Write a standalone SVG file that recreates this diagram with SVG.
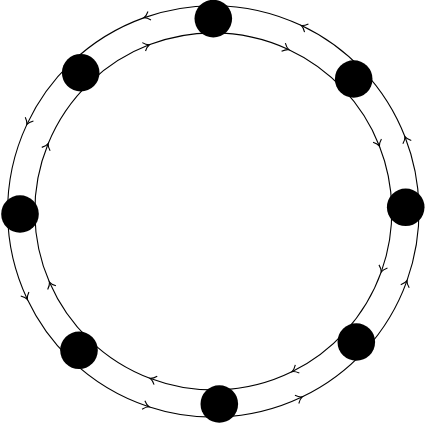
<svg xmlns="http://www.w3.org/2000/svg" width="427" height="425" viewBox="0 0 427 425">
<style>
.edge{fill:none;stroke:#000;stroke-width:1.1;marker-mid:url(#tip)}
.node{fill:#000}
</style>
<defs>
<marker id="tip" markerUnits="userSpaceOnUse" markerWidth="14" markerHeight="14" viewBox="-7 -7 14 14" refX="0" refY="0" orient="auto" overflow="visible">
<path d="M -5.5,-4.5 C -3,-1.5 -1,-0.4 0.4,0 C -1,0.4 -3,1.5 -5.5,4.5" fill="none" stroke="#000" stroke-width="1.1"/>
</marker>
</defs>
<rect width="427" height="425" fill="#fff"/>
<g id="connectors">
<path class="edge" d="M 213.3,5.7 A 205.7 205.7 0 0 0 144.31,17.61 A 205.7 205.7 0 0 0 71.18,62.70"/>
<path class="edge" d="M 363.0,70.33 A 205.7 205.7 0 0 0 301.52,25.59 A 205.7 205.7 0 0 0 213.3,5.7"/>
<path class="edge" d="M 418.95,207.09 A 205.7 205.7 0 0 0 405.07,137.02 A 205.7 205.7 0 0 0 363.0,70.33"/>
<path class="edge" d="M 365.19,350.10 A 205.7 205.7 0 0 0 406.84,281.07 A 205.7 205.7 0 0 0 418.95,207.09"/>
<path class="edge" d="M 219.76,417.0 A 205.7 205.7 0 0 0 301.85,397.06 A 205.7 205.7 0 0 0 365.19,350.10"/>
<path class="edge" d="M 70.40,359.36 A 205.7 205.7 0 0 0 148.71,406.69 A 205.7 205.7 0 0 0 219.76,417.0"/>
<path class="edge" d="M 7.62,214.27 A 205.7 205.7 0 0 0 27.18,298.99 A 205.7 205.7 0 0 0 70.40,359.36"/>
<path class="edge" d="M 71.18,62.70 A 205.7 205.7 0 0 0 27.02,124.14 A 205.7 205.7 0 0 0 7.62,214.27"/>
<path class="edge" d="M 89.97,82.36 A 178.5 178.5 0 0 1 149.04,44.86 A 178.5 178.5 0 0 1 213.3,32.9"/>
<path class="edge" d="M 213.3,32.9 A 178.5 178.5 0 0 1 288.45,49.50 A 178.5 178.5 0 0 1 343.21,88.98"/>
<path class="edge" d="M 343.21,88.98 A 178.5 178.5 0 0 1 379.27,145.68 A 178.5 178.5 0 0 1 391.76,207.66"/>
<path class="edge" d="M 391.76,207.66 A 178.5 178.5 0 0 1 381.36,271.57 A 178.5 178.5 0 0 1 345.10,331.76"/>
<path class="edge" d="M 345.10,331.76 A 178.5 178.5 0 0 1 292.39,371.43 A 178.5 178.5 0 0 1 218.91,389.81"/>
<path class="edge" d="M 218.91,389.81 A 178.5 178.5 0 0 1 150.50,378.49 A 178.5 178.5 0 0 1 89.30,339.80"/>
<path class="edge" d="M 89.30,339.80 A 178.5 178.5 0 0 1 49.60,282.57 A 178.5 178.5 0 0 1 34.82,213.89"/>
<path class="edge" d="M 34.82,213.89 A 178.5 178.5 0 0 1 48.03,143.96 A 178.5 178.5 0 0 1 89.97,82.36"/>
</g>
<g id="n-top"><circle class="node" cx="213.3" cy="18.6" r="18.8"/></g>
<g id="n-topright"><circle class="node" cx="353.7" cy="79" r="18.8"/></g>
<g id="n-right"><circle class="node" cx="405.7" cy="207.3" r="18.8"/></g>
<g id="n-bottomright"><circle class="node" cx="356.3" cy="342" r="18.8"/></g>
<g id="n-bottom"><circle class="node" cx="219.3" cy="404" r="18.8"/></g>
<g id="n-bottomleft"><circle class="node" cx="79" cy="350.3" r="18.8"/></g>
<g id="n-left"><circle class="node" cx="20" cy="214" r="18.8"/></g>
<g id="n-topleft"><circle class="node" cx="80.7" cy="72.7" r="18.8"/></g>
</svg>
